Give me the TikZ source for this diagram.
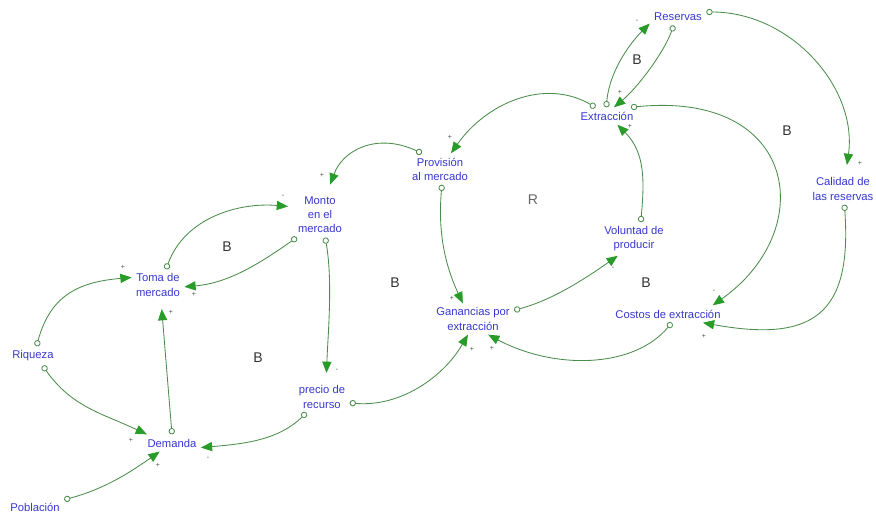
\documentclass[tikz,border=0pt]{standalone}
\usepackage{fontspec}
\setmainfont{Liberation Sans}
\usetikzlibrary{arrows.meta}
\definecolor{varblue}{RGB}{55,55,205}
\definecolor{linkgreen}{RGB}{75,140,75}
\definecolor{tipgreen}{RGB}{40,155,40}
\tikzset{
    var/.style={text=varblue, font=\fontsize{8}{10}\selectfont, align=center, inner sep=3pt},
    link/.style={draw=linkgreen, line width=0.6pt,
        {Circle[fill=white, length=4.5pt, width=4.5pt]}-{Triangle[length=8pt, width=6.5pt, color=tipgreen]}},
    sign/.style={font=\fontsize{5}{5}\selectfont, text=black!70, inner sep=0pt},
    loopname/.style={font=\fontsize{10}{12}\selectfont, text=black!80}
}

\begin{document}
\begin{tikzpicture}[x=0.025cm, y=0.025cm]
    \useasboundingbox (0,0) rectangle (876,-517);
    % Variables
    \node[var] (res)    at (678,-17)  {Reservas};
    \node[var] (extr)   at (607,-116) {Extracción};
    \node[var] (prov)   at (440,-169) {Provisión\\al mercado};
    \node[var] (monto)  at (320,-215) {Monto\\en el\\mercado};
    \node[var] (toma)   at (158,-285) {Toma de\\mercado};
    \node[var] (riq)    at (33,-356)  {Riqueza};
    \node[var] (dem)    at (172,-443) {Demanda};
    \node[var] (pob)    at (35,-507)  {Población};
    \node[var] (precio) at (322,-397) {precio de\\recurso};
    \node[var] (gan)    at (473,-319) {Ganancias por\\extracción};
    \node[var] (vol)    at (634,-239) {Voluntad de\\producir};
    \node[var] (costos) at (668,-314) {Costos de extracción};
    \node[var] (cal)    at (843,-189) {Calidad de\\las reservas};

    % Causal links
    \draw[link, shorten >=4pt] (toma.63) .. controls +(70:55) and +(175:55) .. (monto.163);
    \draw[link] (monto.224) .. controls +(215:45) and +(5:45) .. (toma.356);
    \draw[link] (riq.70) .. controls +(75:55) and +(185:50) .. (toma.164);
    \draw[link] (riq.315) .. controls +(-55:50) and +(155:50) .. (dem.161);
    \draw[link] (pob.14) .. controls +(15:40) and +(215:40) .. (dem.215);
    \draw[link, shorten >=6pt] (dem.90) -- (toma.281);
    \draw[link] (precio.225) .. controls +(225:40) and +(5:40) .. (dem.351);
    \draw[link, shorten >=6pt] (monto.283) .. controls +(-80:45) and +(88:45) .. (precio.75);
    \draw[link, shorten >=6pt] (prov.139) .. controls +(155:50) and +(70:45) .. (monto.72);
    \draw[link] (extr.143) .. controls +(150:60) and +(55:60) .. (prov.55);
    \draw[link] (prov.277) .. controls +(-95:45) and +(115:45) .. (gan.123);
    \draw[link] (precio.348) .. controls +(-5:50) and +(240:50) .. (gan.252);
    \draw[link] (gan.12) .. controls +(15:40) and +(215:40) .. (vol.226);
    \draw[link] (vol.68) .. controls +(85:40) and +(-45:40) .. (extr.320);
    \draw[link] (extr.95) .. controls +(85:35) and +(225:30) .. (res.193);
    \draw[link] (res.243) .. controls +(-110:30) and +(40:30) .. (extr.51);
    \draw[link] (extr.20) .. controls +(168,17) and +(106,75) .. (costos.11);
    \draw[link, shorten >=6pt] (res.10) .. controls +(85,0) and +(12,85) .. (cal.80);
    \draw[link] (cal.275) .. controls +(8,-110) and +(110,-20) .. (costos.346);
    \draw[link] (costos.294) .. controls +(230:60) and +(-28:75) .. (gan.314);

    % Link polarities
    \foreach \x/\y/\s [count=\i] in {283/196/-, 194/294/+, 123/267/+, 131/440/+,
        158/465/+, 171/312/+, 208/458/-, 337/370/-, 322/175/+, 450/137/+,
        452/298/+, 472/349/+, 613/268/-, 630/126/+, 637/21/-, 620/92/+,
        714/291/-, 860/163/+, 704/336/+, 492/348/+} {
        \node[sign] (sgn\i) at (\x,-\y) {\s};
    }
    % Loop types
    \foreach \x/\y/\t [count=\i] in {227/247/B, 395/283/B, 258/358/B, 637/60/B,
        787/131/B, 646/283/B} {
        \node[loopname] (loop\i) at (\x,-\y) {\t};
    }
    \node[loopname, text=black!60] (loopR) at (533,-200) {R};
\end{tikzpicture}
\end{document}
